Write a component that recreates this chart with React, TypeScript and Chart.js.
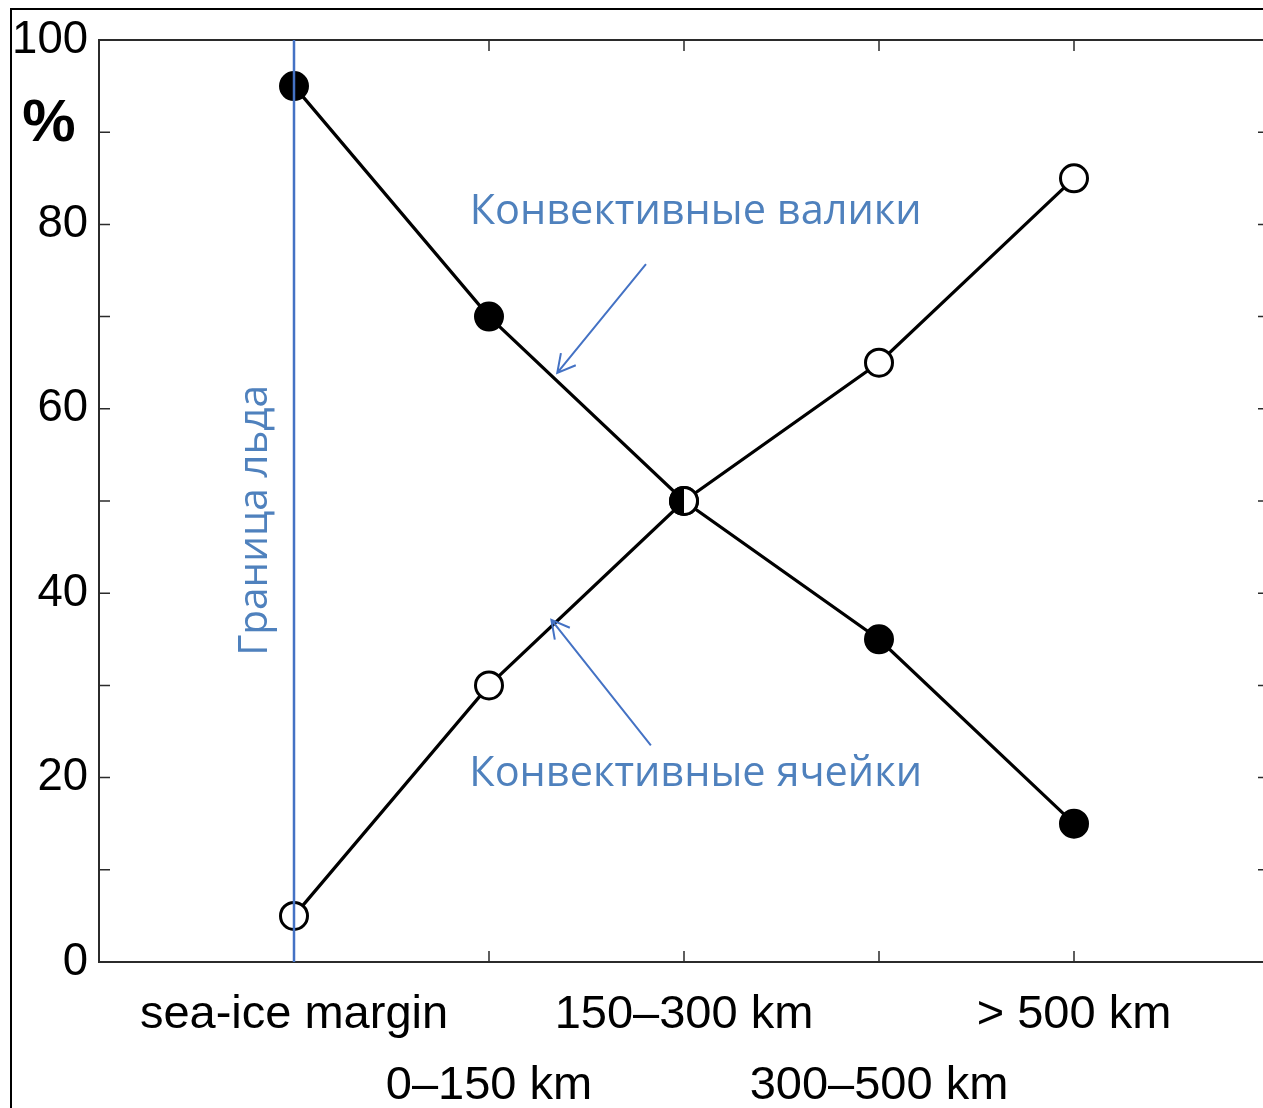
import React, { useEffect, useRef } from "react";
import { Chart, registerables } from "chart.js";

Chart.register(...registerables);

// ---- data ----
const categories = ["sea-ice margin", "0–150 km", "150–300 km", "300–500 km", "> 500 km"];
const rollsValues = [95, 70, 50, 35, 15]; // Конвективные валики (filled)
const cellsValues = [5, 30, 50, 65, 85]; // Конвективные ячейки (open)
const yTickValues = [0, 10, 20, 30, 40, 50, 60, 70, 80, 90, 100];
const yLabelStep = 20;
const rollsLabel = "Конвективные валики";
const cellsLabel = "Конвективные ячейки";
const iceEdgeLabel = "Граница льда";
const unitLabel = "%";

// annotation anchors (data coordinates)
const rollsText = { x: 2.06, y: 81.3 };
const cellsText = { x: 2.06, y: 20.4 };
const rollsArrow = { x1: 1.805, y1: 75.7, x2: 1.35, y2: 63.9 };
const cellsArrow = { x1: 1.83, y1: 23.5, x2: 1.32, y2: 37.1 };
const iceEdgeX = 0;
const iceText = { x: -0.2, y: 47.9 };
const unitText = { y: 90.8 };

const AXIS_FONT = '"Liberation Sans", Arial, Helvetica, sans-serif';
const NOTE_FONT = '"Open Sans", "Noto Sans", sans-serif';
const BLUE_LINE = "#4472c4";
const BLUE_TEXT = "#4f81bd";
const AXIS_COLOR = "#2b2b2b";

const W = 1272;
const H = 1108;

function makeHalfMarker(): HTMLCanvasElement {
  const c = document.createElement("canvas");
  c.width = 34;
  c.height = 34;
  const g = c.getContext("2d")!;
  const cx = 17, cy = 17, r = 13.5;
  g.beginPath();
  g.arc(cx, cy, r, 0, Math.PI * 2);
  g.fillStyle = "#fff";
  g.fill();
  g.beginPath();
  g.arc(cx, cy, r, Math.PI / 2, (3 * Math.PI) / 2);
  g.closePath();
  g.fillStyle = "#000";
  g.fill();
  g.beginPath();
  g.arc(cx, cy, r, 0, Math.PI * 2);
  g.lineWidth = 3;
  g.strokeStyle = "#000";
  g.stroke();
  return c;
}

function drawArrow(ctx: CanvasRenderingContext2D, x1: number, y1: number, x2: number, y2: number) {
  ctx.beginPath();
  ctx.moveTo(x1, y1);
  ctx.lineTo(x2, y2);
  const ang = Math.atan2(y1 - y2, x1 - x2);
  const len = 20;
  const spread = 0.5;
  ctx.moveTo(x2 + len * Math.cos(ang + spread), y2 + len * Math.sin(ang + spread));
  ctx.lineTo(x2, y2);
  ctx.lineTo(x2 + len * Math.cos(ang - spread), y2 + len * Math.sin(ang - spread));
  ctx.stroke();
}

const framePlugin = {
  id: "frame",
  beforeDatasetsDraw(chart: any) {
    const ctx: CanvasRenderingContext2D = chart.ctx;
    const { left, right, top, bottom } = chart.chartArea;
    const xs = chart.scales.x;
    const ys = chart.scales.y;
    ctx.save();
    ctx.strokeStyle = AXIS_COLOR;
    ctx.lineWidth = 2;
    ctx.beginPath();
    ctx.rect(left, top, right - left, bottom - top);
    ctx.stroke();
    ctx.lineWidth = 1.5;
    ctx.beginPath();
    const tl = 11;
    yTickValues.forEach((v) => {
      const py = ys.getPixelForValue(v);
      ctx.moveTo(left, py);
      ctx.lineTo(left + tl, py);
      ctx.moveTo(right, py);
      ctx.lineTo(right - tl, py);
    });
    categories.forEach((_, i) => {
      const px = xs.getPixelForValue(i);
      ctx.moveTo(px, bottom);
      ctx.lineTo(px, bottom - tl);
      ctx.moveTo(px, top);
      ctx.lineTo(px, top + tl);
    });
    ctx.stroke();
    ctx.restore();
  },
  afterDatasetsDraw(chart: any) {
    const ctx: CanvasRenderingContext2D = chart.ctx;
    const { top, bottom } = chart.chartArea;
    const xs = chart.scales.x;
    const ys = chart.scales.y;
    ctx.save();
    // ice edge line
    ctx.strokeStyle = BLUE_LINE;
    ctx.lineWidth = 2.5;
    const ix = xs.getPixelForValue(iceEdgeX);
    ctx.beginPath();
    ctx.moveTo(ix, top);
    ctx.lineTo(ix, bottom);
    ctx.stroke();
    // arrows
    ctx.lineWidth = 2;
    [rollsArrow, cellsArrow].forEach((a) => {
      drawArrow(
        ctx,
        xs.getPixelForValue(a.x1),
        ys.getPixelForValue(a.y1),
        xs.getPixelForValue(a.x2),
        ys.getPixelForValue(a.y2)
      );
    });
    // notes
    ctx.fillStyle = BLUE_TEXT;
    ctx.font = `41.5px ${NOTE_FONT}`;
    ctx.textAlign = "center";
    ctx.textBaseline = "middle";
    ctx.fillText(rollsLabel, xs.getPixelForValue(rollsText.x), ys.getPixelForValue(rollsText.y));
    ctx.fillText(cellsLabel, xs.getPixelForValue(cellsText.x), ys.getPixelForValue(cellsText.y));
    ctx.save();
    ctx.translate(xs.getPixelForValue(iceText.x), ys.getPixelForValue(iceText.y));
    ctx.rotate(-Math.PI / 2);
    ctx.font = `40.5px ${NOTE_FONT}`;
    ctx.fillText(iceEdgeLabel, 0, 0);
    ctx.restore();
    ctx.restore();
  },
  afterDraw(chart: any) {
    const ctx: CanvasRenderingContext2D = chart.ctx;
    const ys = chart.scales.y;
    ctx.save();
    // outer frame
    ctx.strokeStyle = "#000";
    ctx.lineWidth = 2;
    ctx.beginPath();
    ctx.moveTo(11, H);
    ctx.lineTo(11, 9);
    ctx.lineTo(W, 9);
    ctx.stroke();
    // unit label
    ctx.fillStyle = "#000";
    ctx.font = `bold 60px ${AXIS_FONT}`;
    ctx.textAlign = "center";
    ctx.textBaseline = "middle";
    ctx.fillText(unitLabel, 49, ys.getPixelForValue(unitText.y));
    ctx.restore();
  },
};

export default function App() {
  const ref = useRef<HTMLCanvasElement | null>(null);
  useEffect(() => {
    const canvas = ref.current!;
    canvas.width = W;
    canvas.height = H;
    const half = makeHalfMarker();
    const styleFn = (c: any) => {
      const i = c.dataIndex;
      return rollsValues[i] === cellsValues[i] ? half : "circle";
    };
    const chart = new Chart(canvas, {
      type: "line",
      data: {
        datasets: [
          {
            label: rollsLabel,
            data: rollsValues.map((v, i) => ({ x: i, y: v })),
            borderColor: "#000",
            borderWidth: 3.2,
            pointRadius: 13.5,
            pointBorderWidth: 3,
            pointBackgroundColor: "#000",
            pointBorderColor: "#000",
            pointStyle: styleFn as any,
            tension: 0,
          },
          {
            label: cellsLabel,
            data: cellsValues.map((v, i) => ({ x: i, y: v })),
            borderColor: "#000",
            borderWidth: 3.2,
            pointRadius: 13.5,
            pointBorderWidth: 3,
            pointBackgroundColor: "#fff",
            pointBorderColor: "#000",
            pointStyle: styleFn as any,
            tension: 0,
          },
        ],
      },
      options: {
        responsive: false,
        animation: false,
        devicePixelRatio: 1,
        layout: { autoPadding: false, padding: { left: 0, top: 40, right: 3, bottom: 0 } },
        plugins: { legend: { display: false }, tooltip: { enabled: false } },
        scales: {
          x: {
            type: "linear",
            min: -1,
            max: 5,
            grid: { display: false, drawTicks: false },
            border: { display: false },
            afterBuildTicks: (s: any) => {
              s.ticks = categories.map((_, i) => ({ value: i }));
            },
            afterFit: (s: any) => {
              s.height = 146;
              s.paddingLeft = 0;
              s.paddingRight = 0;
            },
            ticks: {
              autoSkip: false,
              maxRotation: 0,
              minRotation: 0,
              padding: 18,
              color: "#000",
              font: { family: AXIS_FONT, size: 47, lineHeight: 71 / 47 },
              callback: (v: any) => {
                const i = Math.round(Number(v));
                const t = categories[i] ?? "";
                return i % 2 === 0 ? t : ["", t];
              },
            },
          },
          y: {
            type: "linear",
            min: 0,
            max: 100,
            grid: { display: false, drawTicks: false },
            border: { display: false },
            afterBuildTicks: (s: any) => {
              s.ticks = yTickValues.map((v) => ({ value: v }));
            },
            afterFit: (s: any) => {
              s.width = 99;
              s.paddingTop = 0;
              s.paddingBottom = 0;
            },
            ticks: {
              autoSkip: false,
              padding: 11,
              color: "#000",
              font: { family: AXIS_FONT, size: 45.5 },
              callback: (v: any) => (Number(v) % yLabelStep === 0 ? String(v) : ""),
            },
          },
        },
      },
      plugins: [framePlugin as any],
    });
    return () => chart.destroy();
  }, []);
  return (
    <div
      style={{
        position: "fixed",
        left: 0,
        top: 0,
        width: 1263,
        height: 1108,
        overflow: "hidden",
        background: "#fff",
      }}
    >
      <canvas ref={ref} style={{ width: W, height: H, display: "block" }} />
    </div>
  );
}
